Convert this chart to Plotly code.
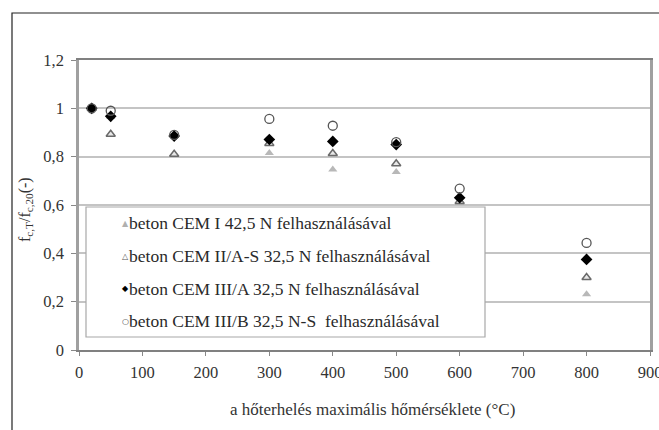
import plotly.graph_objects as go

# Heat exposure temperatures (°C)
temperatures = [20, 50, 150, 300, 400, 500, 600, 800]

# Relative compressive strength f_c,T / f_c,20 for each cement type
cem_i_425 = [1.0, 0.965, 0.885, 0.815, 0.747, 0.737, 0.61, 0.231]
cem_ii_as_325 = [1.0, 0.893, 0.81, 0.855, 0.813, 0.771, 0.615, 0.30]
cem_iii_a_325 = [1.0, 0.967, 0.885, 0.871, 0.863, 0.850, 0.63, 0.375]
cem_iii_b_325 = [1.0, 0.99, 0.89, 0.956, 0.928, 0.860, 0.668, 0.443]

series_names = [
    "beton CEM I 42,5 N felhasználásával",
    "beton CEM II/A-S 32,5 N felhasználásával",
    "beton CEM III/A 32,5 N felhasználásával",
    "beton CEM III/B 32,5 N-S  felhasználásával",
]

x_ticks = [0, 100, 200, 300, 400, 500, 600, 700, 800, 900]
y_ticks = [0, 0.2, 0.4, 0.6, 0.8, 1.0, 1.2]

FONT = "Liberation Serif"
TEXT = "#333333"

# marker style per series: (symbol, size, fill, outline colour, outline width, legend glyph, glyph colour)
styles = [
    ("triangle-up", 8, "#b8b8b8", "#b8b8b8", 0, "▲", "#b0b0b0"),
    ("triangle-up", 8, "#e8e8e8", "#6a6a6a", 1.5, "△", "#555555"),
    ("diamond", 9, "#000000", "#000000", 0, "◆", "#000000"),
    ("circle-open", 9, "#555555", "#555555", 1.3, "○", "#444444"),
]
values = [cem_i_425, cem_ii_as_325, cem_iii_a_325, cem_iii_b_325]

fig = go.Figure()
for name, ys, st in zip(series_names, values, styles):
    sym, size, fill, lc, lw, _, _ = st
    fig.add_trace(go.Scatter(
        x=temperatures, y=ys, mode="markers", name=name, showlegend=False,
        marker=dict(symbol=sym, size=size, color=fill,
                    line=dict(width=lw, color=lc)),
    ))

# plot-area geometry in pixels
L, R, T, B = 79, 650, 60, 350
W, H = R - L, B - T


def px_x(p):
    return (p - L) / W


def px_y(p):
    return (B - p) / H


shapes = [
    # outer chart frame
    dict(type="rect", xref="paper", yref="paper",
         x0=px_x(12), x1=px_x(720), y0=px_y(470), y1=px_y(13),
         line=dict(color="#222222", width=1.2), fillcolor="rgba(0,0,0,0)",
         layer="below"),
    # legend box
    dict(type="rect", xref="paper", yref="paper",
         x0=px_x(86), x1=px_x(485), y0=px_y(337), y1=px_y(207),
         line=dict(color="#a8a8a8", width=1.2), fillcolor="white",
         layer="above"),
]

annotations = []
# legend rows: glyph followed by the series label
row_y = [223, 256, 288.5, 321]
for name, st, yy in zip(series_names, styles, row_y):
    glyph, gcol = st[5], st[6]
    annotations.append(dict(
        xref="paper", yref="paper", x=px_x(125), y=px_y(yy),
        xanchor="center", yanchor="middle", showarrow=False,
        text=glyph, font=dict(family="DejaVu Sans", size=8, color=gcol),
    ))
    annotations.append(dict(
        xref="paper", yref="paper", x=px_x(127), y=px_y(yy),
        xanchor="left", yanchor="middle", showarrow=False,
        text=name, font=dict(family=FONT, size=17.5, color="#2a2a2a"),
    ))

# x-axis title
annotations.append(dict(
    xref="paper", yref="paper", x=px_x(372), y=px_y(409),
    xanchor="center", yanchor="middle", showarrow=False,
    text="a hőterhelés maximális hőmérséklete (°C)",
    font=dict(family=FONT, size=17, color=TEXT),
))
# y-axis title
annotations.append(dict(
    xref="paper", yref="paper", x=px_x(26), y=px_y(210),
    xanchor="center", yanchor="middle", showarrow=False, textangle=-90,
    text="f<sub>c,T</sub>/f<sub>c,20</sub>(-)",
    font=dict(family=FONT, size=16, color=TEXT),
))

fig.update_layout(
    width=659, height=430,
    margin=dict(l=L, r=659 - R, t=T, b=430 - B, autoexpand=False),
    paper_bgcolor="white", plot_bgcolor="white",
    separators=", ",
    font=dict(family=FONT, size=16.5, color=TEXT),
    showlegend=False,
    shapes=shapes,
    annotations=annotations,
    xaxis=dict(
        range=[0, 900], tickvals=x_ticks, ticks="outside", ticklen=4,
        tickcolor="#888888", tickwidth=1, ticklabelstandoff=2,
        ticklabeloverflow="allow", automargin=False,
        showgrid=False, zeroline=False,
        showline=True, linecolor="#808080", linewidth=2, mirror=True,
        tickfont=dict(family=FONT, size=16.5, color=TEXT),
    ),
    yaxis=dict(
        range=[0, 1.2], tickvals=y_ticks, ticks="outside", ticklen=5,
        tickcolor="#888888", tickwidth=1, ticklabelstandoff=4,
        ticklabeloverflow="allow", automargin=False,
        showgrid=True, gridcolor="#c4c4c4", gridwidth=1.5, zeroline=False,
        showline=True, linecolor="#a0a0a0", linewidth=2.5, mirror=True,
        tickfont=dict(family=FONT, size=16.5, color=TEXT),
    ),
)

fig.write_html("out.html")
